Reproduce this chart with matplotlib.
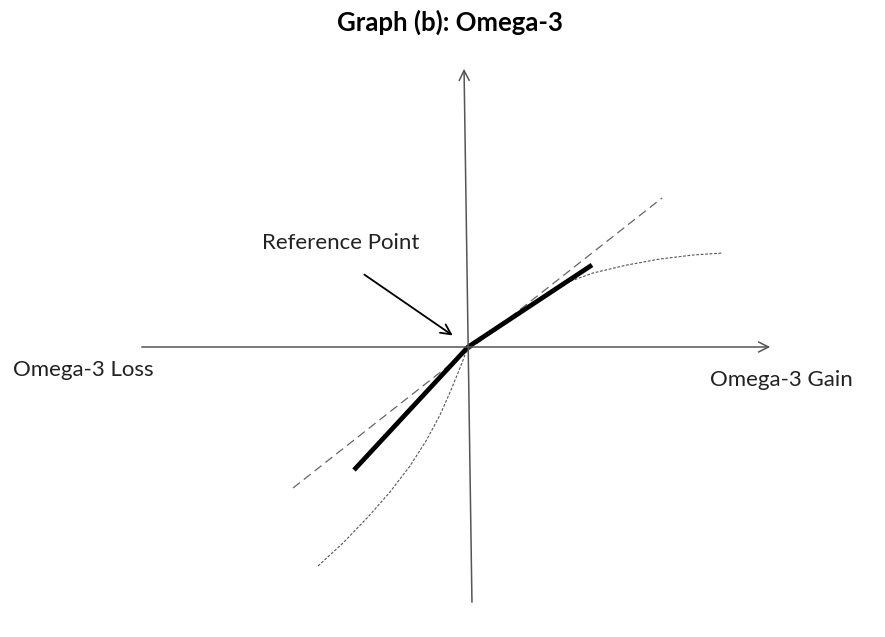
import numpy as np
import matplotlib.pyplot as plt

plt.rcParams['font.family'] = ['Lato', 'DejaVu Sans']

# Ejes (extremos en unidades del grafico, origen = punto de referencia)
eje_x = np.array([-3.29, 3.05])
eje_y_x = np.array([0.04, -0.04])
eje_y_y = np.array([-2.58, 2.81])

# Recta de referencia (discontinua)
recta_x = np.array([-1.75, 1.94])
recta_y = np.array([-1.41, 1.49])

# Funcion de valor lineal por tramos (gruesa)
tramos_x = np.array([-1.14, 0.0, 1.24])
tramos_y = np.array([-1.23, 0.0, 0.82])

# Funcion de valor curva (punteada)
curva_x = np.array([-1.50, -1.25, -1.00, -0.78, -0.58, -0.42, -0.28, -0.17, -0.08, 0.0,
                    0.35, 0.72, 0.92, 1.25, 1.59, 1.92, 2.25, 2.55])
curva_y = np.array([-2.19, -1.96, -1.70, -1.45, -1.19, -0.94, -0.68, -0.43, -0.21, 0.0,
                    0.25, 0.49, 0.62, 0.74, 0.82, 0.88, 0.92, 0.94])

titulo = "Graph (b): Omega-3"
etiqueta_ref = "Reference Point"
etiqueta_perdida = "Omega-3 Loss"
etiqueta_ganancia = "Omega-3 Gain"

fig = plt.figure(figsize=(8.85, 6.37), dpi=100)
ax = fig.add_axes([0, 0, 1, 1])
ax.set_xlim(-4.68, 4.17)
ax.set_ylim(-2.90, 3.47)
ax.axis('off')

gris = "#555555"
flecha = dict(arrowstyle="->", color=gris, lw=1.1, mutation_scale=18)

# eje horizontal y vertical con flecha
ax.annotate("", xy=(eje_x[1], 0), xytext=(eje_x[0], 0), arrowprops=flecha)
ax.annotate("", xy=(eje_y_x[1], eje_y_y[1]), xytext=(eje_y_x[0], eje_y_y[0]), arrowprops=flecha)

ax.plot(recta_x, recta_y, color="#666666", lw=0.9, dashes=(7, 4))
ax.plot(curva_x, curva_y, color="#555555", lw=0.8, dashes=(2.5, 1.5))
ax.plot(tramos_x, tramos_y, color="black", lw=3.4, solid_capstyle='butt')

ax.annotate("", xy=(-0.13, 0.10), xytext=(-1.06, 0.74),
            arrowprops=dict(arrowstyle="->", color="black", lw=1.3, mutation_scale=18))

ax.text(-2.06, 1.04, etiqueta_ref, fontsize=16, color="#222222", va='center', ha='left')
ax.text(-4.55, -0.23, etiqueta_perdida, fontsize=16, color="#222222", va='center', ha='left')
ax.text(2.42, -0.33, etiqueta_ganancia, fontsize=16, color="#222222", va='center', ha='left')

fig.text(450 / 885, 1 - 22 / 637, titulo, fontsize=18.5, fontweight='bold',
         ha='center', va='center')

plt.savefig("out.png", dpi=100)
